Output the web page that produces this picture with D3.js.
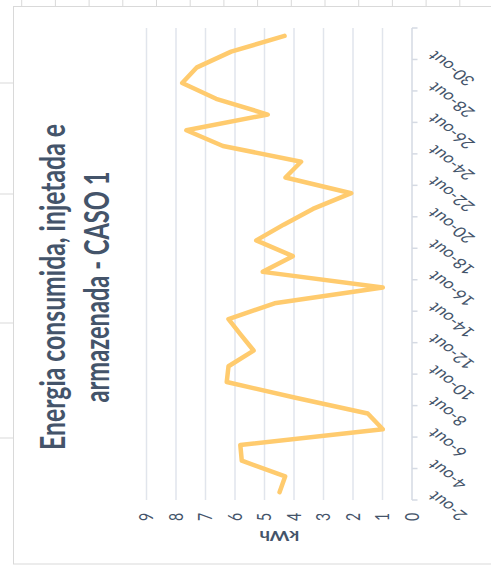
<!DOCTYPE html>
<html lang="pt">
<head>
  <meta charset="utf-8">
  <title>Energia consumida, injetada e armazenada - CASO 1</title>
  <script src="https://d3js.org/d3.v7.min.js"></script>
  <style>
    body { margin: 0; background: #fff; }
    svg { display: block; font-family: Lato, "Open Sans", sans-serif; }
    .grid line { stroke: #e1e5ec; stroke-width: 1.5; }
    .cell { stroke: #d9d9d9; stroke-width: 1; }
    .tick-text { fill: #44546a; font-size: 14px; }
  </style>
</head>
<body>
<div id="chart"></div>
<script>
  // dias (categorias), de baixo para cima depois da rotacao
  const days = ["2-out","3-out","4-out","5-out","6-out","7-out","8-out","9-out","10-out","11-out",
                "12-out","13-out","14-out","15-out","16-out","17-out","18-out","19-out","20-out","21-out",
                "22-out","23-out","24-out","25-out","26-out","27-out","28-out","29-out","30-out","31-out"];
  // energia em kWh
  const energy = [4.49, 4.30, 5.77, 5.82, 0.99, 1.50, 3.95, 6.28, 6.22, 5.37,
                  5.80, 6.22, 4.66, 0.99, 5.06, 4.04, 5.28, 4.35, 3.36, 2.06,
                  4.29, 3.76, 6.41, 7.65, 4.89, 6.64, 7.79, 7.29, 6.13, 4.32];
  const valueTicks = [0, 1, 2, 3, 4, 5, 6, 7, 8, 9];
  const dayLabels = ["2-out","4-out","6-out","8-out","10-out","12-out","14-out","16-out",
                     "18-out","20-out","22-out","24-out","26-out","28-out","30-out"];
  const titleLines = ["Energia consumida, injetada e", "armazenada - CASO 1"];

  const width = 491, height = 565;
  const stretch = 1.35; // a imagem original esta esticada na horizontal

  const svg = d3.select("#chart").append("svg")
    .attr("width", width)
    .attr("height", height);

  // linhas da folha de calculo atras do grafico
  const sheetCols = d3.range(14).map(k => 21.7 + k * 33.7);
  const sheetRows = [83, 194, 323, 438];
  svg.selectAll(".col").data(sheetCols).enter().append("line")
    .attr("class", "cell")
    .attr("x1", d => d).attr("x2", d => d)
    .attr("y1", 0).attr("y2", 7);
  svg.selectAll(".row").data(sheetRows).enter().append("line")
    .attr("class", "cell")
    .attr("x1", 0).attr("x2", 14)
    .attr("y1", d => d).attr("y2", d => d);

  // area do grafico
  svg.append("rect")
    .attr("x", 13.5).attr("y", 6.5)
    .attr("width", 490).attr("height", 557.5)
    .attr("fill", "#fff")
    .attr("stroke", "#d9d9d9");

  const plotTop = 28, plotBottom = 500;
  const y = d3.scaleBand().domain(days).range([plotBottom, plotTop]).padding(0);
  const x = d3.scaleLinear().domain([0, 9]).range([412, 146.5]);

  // linhas de grelha
  svg.append("g").attr("class", "grid")
    .selectAll("line").data(valueTicks.filter(v => v > 0)).enter().append("line")
    .attr("x1", d => x(d)).attr("x2", d => x(d))
    .attr("y1", plotTop).attr("y2", plotBottom);

  // eixo das categorias
  const axisColor = "#d5dae3";
  svg.append("line")
    .attr("x1", x(0)).attr("x2", x(0))
    .attr("y1", plotTop).attr("y2", plotBottom)
    .attr("stroke", axisColor).attr("stroke-width", 1.5);
  const tickIdx = d3.range(0, days.length + 1, 2);
  svg.selectAll(".ctick").data(tickIdx).enter().append("line")
    .attr("x1", x(0)).attr("x2", x(0) + 5.5)
    .attr("y1", d => plotBottom - d * y.step())
    .attr("y2", d => plotBottom - d * y.step())
    .attr("stroke", axisColor).attr("stroke-width", 1.5);

  // rotulos dos dias
  svg.selectAll(".dlabel").data(dayLabels).enter().append("text")
    .attr("class", "tick-text")
    .attr("text-anchor", "end")
    .attr("dy", "0.35em")
    .attr("transform", d => `translate(431,${y(d) + y.bandwidth() / 2 + 2}) scale(${stretch},1) rotate(-135)`)
    .text(d => d);

  // rotulos dos valores
  svg.selectAll(".vlabel").data(valueTicks).enter().append("text")
    .attr("class", "tick-text")
    .attr("text-anchor", "middle")
    .attr("dy", "0.35em")
    .attr("transform", d => `translate(${x(d)},517) scale(${stretch},1) rotate(-90)`)
    .text(d => d);

  // titulo do eixo
  svg.append("text")
    .attr("class", "tick-text")
    .attr("text-anchor", "middle")
    .attr("dy", "0.35em")
    .style("font-weight", "bold")
    .attr("transform", `translate(${(x(4) + x(5)) / 2},536) scale(${stretch},1) rotate(180)`)
    .text("kWh");

  // serie
  const line = d3.line()
    .x(d => x(d.v))
    .y(d => y(d.day) + y.bandwidth() / 2);
  svg.append("path")
    .datum(days.map((day, i) => ({ day, v: energy[i] })))
    .attr("fill", "none")
    .attr("stroke", "#ffcb6e")
    .attr("stroke-width", 4.5)
    .attr("stroke-linejoin", "round")
    .attr("stroke-linecap", "round")
    .attr("d", line);

  // titulo
  const titleX = [65, 109];
  const titleLen = [326, 231];
  titleLines.forEach((t, i) => {
    svg.append("text")
      .attr("text-anchor", "middle")
      .attr("fill", "#44546a")
      .style("font-size", "26px")
      .style("font-weight", "bold")
      .attr("textLength", titleLen[i])
      .attr("lengthAdjust", "spacingAndGlyphs")
      .attr("transform", `translate(${titleX[i]},287) scale(${stretch},1) rotate(-90)`)
      .text(t);
  });
</script>
</body>
</html>
